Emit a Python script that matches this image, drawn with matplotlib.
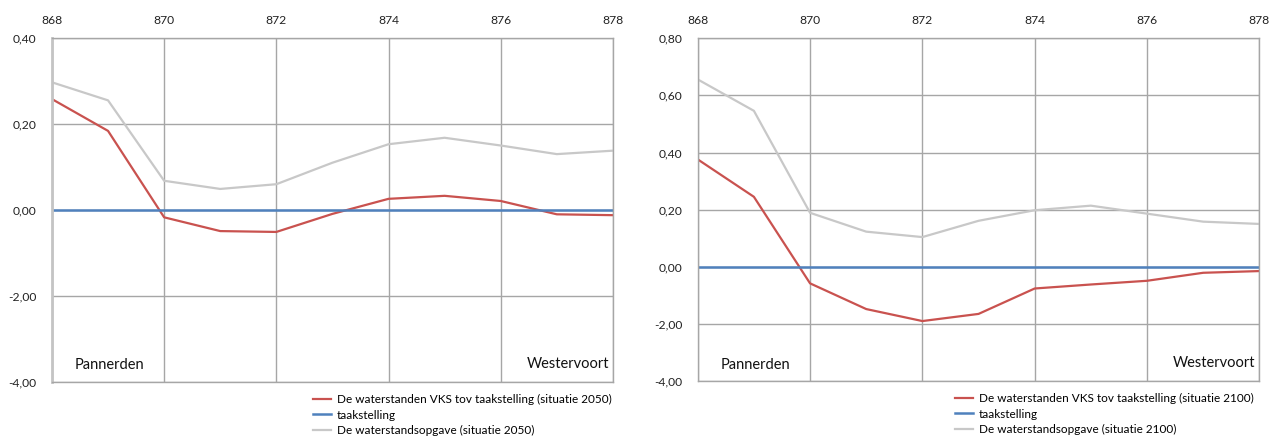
import matplotlib; matplotlib.use("Agg")
import matplotlib.pyplot as plt

plt.rcParams["font.family"] = ["Lato", "DejaVu Sans"]

km = [868, 869, 870, 871, 872, 873, 874, 875, 876, 877, 878]

# situatie 2050
vks_2050 = [0.258, 0.184, -0.017, -0.049, -0.051, -0.009, 0.026, 0.033, 0.021, -0.010, -0.012]
opgave_2050 = [0.297, 0.255, 0.068, 0.049, 0.060, 0.110, 0.153, 0.168, 0.150, 0.130, 0.138]

# situatie 2100
vks_2100 = [0.376, 0.245, -0.058, -0.148, -0.190, -0.165, -0.076, -0.062, -0.049, -0.021, -0.015]
opgave_2100 = [0.656, 0.546, 0.189, 0.123, 0.104, 0.161, 0.198, 0.214, 0.186, 0.158, 0.150]

taak = [0.0] * len(km)

x_ticks = [868, 870, 872, 874, 876, 878]
y_ticks_2050 = [0.4, 0.2, 0.0, -0.2, -0.4]
y_labels_2050 = ["0,40", "0,20", "0,00", "-2,00", "-4,00"]
y_ticks_2100 = [0.8, 0.6, 0.4, 0.2, 0.0, -0.2, -0.4]
y_labels_2100 = ["0,80", "0,60", "0,40", "0,20", "0,00", "-2,00", "-4,00"]

RED = "#c9524f"
BLUE = "#4f81bd"
GREY = "#c8c8c8"
GRID = "#a6a6a6"


def draw_panel(ax, vks, opgave, year, yticks, ylabels, ymax, leg_x, thick_left):
    ax.plot(km, vks, color=RED, lw=1.6, label=f"De waterstanden VKS tov taakstelling (situatie {year})")
    ax.plot(km, taak, color=BLUE, lw=1.8, label="taakstelling")
    ax.plot(km, opgave, color=GREY, lw=1.6, label=f"De waterstandsopgave (situatie {year})")

    ax.set_xlim(868, 878)
    ax.set_ylim(-0.4, ymax)
    ax.set_xticks(x_ticks)
    ax.set_yticks(yticks)
    ax.set_yticklabels(ylabels)
    ax.xaxis.tick_top()
    ax.tick_params(axis="x", length=0, pad=9, labelsize=8.7, colors="#222222")
    ax.tick_params(axis="y", length=0, pad=11, labelsize=8.7, colors="#222222")
    ax.grid(True, color=GRID, lw=1.0)
    ax.set_axisbelow(True)
    for side in ["top", "right", "bottom"]:
        ax.spines[side].set_color(GRID)
        ax.spines[side].set_linewidth(1.0)
    if thick_left:
        ax.spines["left"].set_color("#c4c4c4")
        ax.spines["left"].set_linewidth(2.0)
    else:
        ax.spines["left"].set_color(GRID)
        ax.spines["left"].set_linewidth(1.0)

    ax.text(0.04, 0.048, "Pannerden", transform=ax.transAxes,
            ha="left", va="center", fontsize=10.5, color="#111111")
    ax.text(0.993, 0.053, "Westervoort", transform=ax.transAxes,
            ha="right", va="center", fontsize=10.5, color="#111111")

    ax.legend(loc="upper left", bbox_to_anchor=(leg_x, -0.035), frameon=False,
              fontsize=8.5, handlelength=1.55, handletextpad=0.5,
              labelspacing=0.38, borderpad=0, borderaxespad=0)


fig = plt.figure(figsize=(12.7, 4.4), dpi=100)
ax1 = fig.add_axes([0.0409, 0.1318, 0.4417, 0.7818])
ax2 = fig.add_axes([0.5494, 0.134, 0.4422, 0.779])

draw_panel(ax1, vks_2050, opgave_2050, 2050, y_ticks_2050, y_labels_2050, 0.4, 0.465, True)
draw_panel(ax2, vks_2100, opgave_2100, 2100, y_ticks_2100, y_labels_2100, 0.8, 0.458, False)

fig.savefig("out.png", dpi=100)
